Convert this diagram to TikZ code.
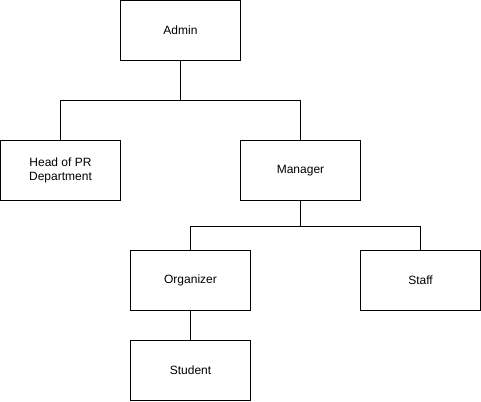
\documentclass[tikz,border=0pt]{standalone}
\usepackage{fontspec}
\setmainfont{Liberation Sans}
\begin{document}
\begin{tikzpicture}[x=1pt,y=-1pt,
  box/.style={draw=black,line width=1pt,minimum width=120pt,minimum height=60pt,inner sep=0pt,align=center,font=\fontsize{12}{14}\selectfont},
  conn/.style={draw=black,line width=1pt}]
\useasboundingbox[fill=white] (0,0) rectangle (481,401);
\node[box] (admin) at (180.5,30.5) {Admin};
\node[box] (head) at (60.5,170.5) {Head of PR\\Department};
\node[box] (manager) at (300.5,170.5) {Manager};
\node[box] (organizer) at (190.5,280.5) {Organizer};
\node[box] (staff) at (420.5,280.5) {Staff};
\node[box] (student) at (190.5,370.5) {Student};
\draw[conn] (admin.south) -- ++(0,40) -| (head.north);
\draw[conn] (admin.south) -- ++(0,40) -| (manager.north);
\draw[conn] (manager.south) -- ++(0,25) -| (organizer.north);
\draw[conn] (manager.south) -- ++(0,25) -| (staff.north);
\draw[conn] (organizer.south) -- (student.north);
\end{tikzpicture}
\end{document}
